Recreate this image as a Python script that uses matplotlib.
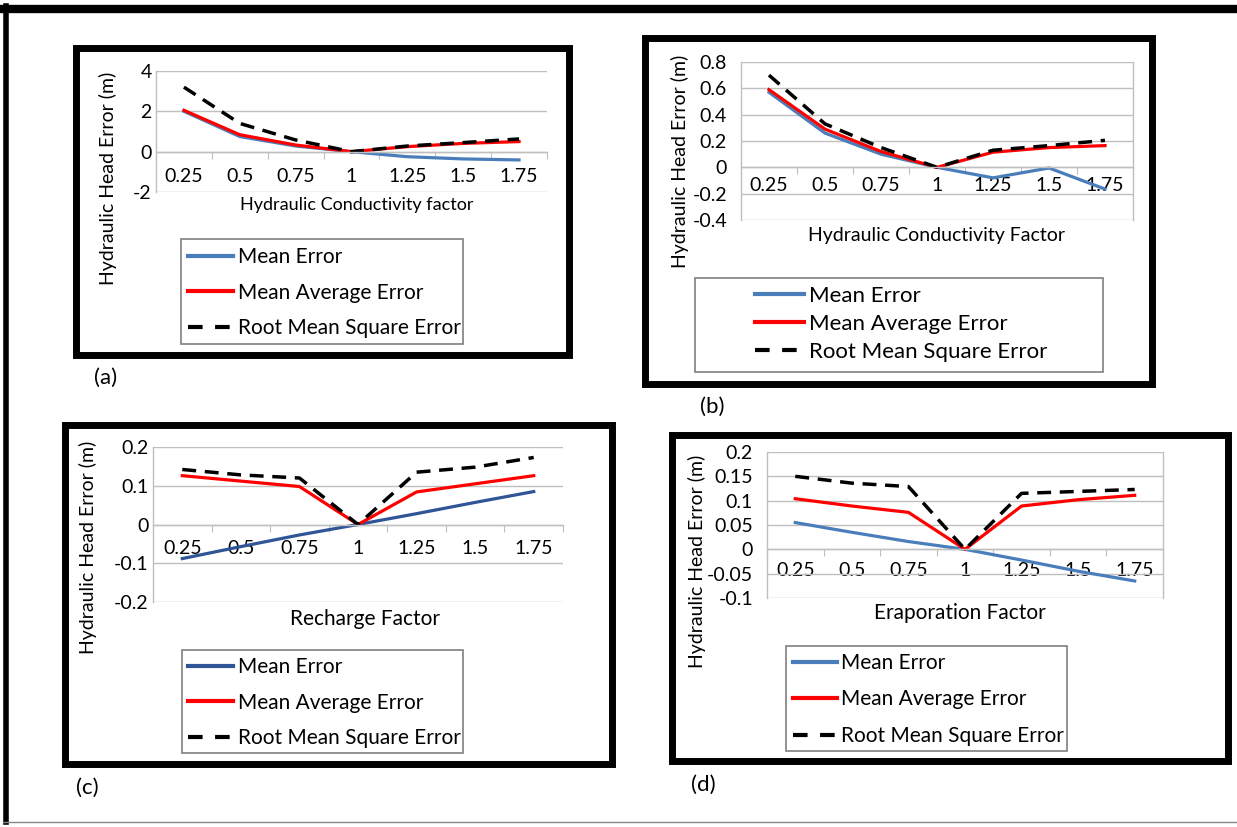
import matplotlib
matplotlib.use('Agg')
import matplotlib.pyplot as plt
from matplotlib.patches import Rectangle
from matplotlib.lines import Line2D
import matplotlib.transforms as mtransforms

plt.rcParams['font.family'] = ['Lato', 'DejaVu Sans']

factors = ['0.25', '0.5', '0.75', '1', '1.25', '1.5', '1.75']
series_names = ['Mean Error', 'Mean Average Error', 'Root Mean Square Error']

# (a) hydraulic conductivity factor
a_me = [2.0, 0.75, 0.28, 0.0, -0.25, -0.36, -0.41]
a_mae = [2.05, 0.84, 0.33, 0.0, 0.25, 0.41, 0.50]
a_rmse = [3.2, 1.4, 0.58, 0.0, 0.28, 0.45, 0.63]
a_yticks = [-2, 0, 2, 4]

# (b) hydraulic conductivity factor
b_me = [0.57, 0.26, 0.10, 0.0, -0.08, -0.005, -0.165]
b_mae = [0.59, 0.29, 0.12, 0.0, 0.115, 0.15, 0.165]
b_rmse = [0.70, 0.33, 0.15, 0.0, 0.13, 0.165, 0.205]
b_yticks = [-0.4, -0.2, 0, 0.2, 0.4, 0.6, 0.8]

# (c) recharge factor
c_me = [-0.088, -0.057, -0.027, 0.0, 0.028, 0.057, 0.085]
c_mae = [0.126, 0.112, 0.098, 0.0, 0.084, 0.105, 0.126]
c_rmse = [0.142, 0.128, 0.12, 0.0, 0.135, 0.148, 0.173]
c_yticks = [-0.2, -0.1, 0, 0.1, 0.2]

# (d) evaporation factor
d_me = [0.055, 0.035, 0.016, 0.0, -0.022, -0.045, -0.065]
d_mae = [0.104, 0.089, 0.076, 0.0, 0.089, 0.102, 0.111]
d_rmse = [0.150, 0.136, 0.129, 0.0, 0.115, 0.119, 0.123]
d_yticks = [-0.1, -0.05, 0, 0.05, 0.1, 0.15, 0.2]

W, H = 1237, 827
fig = plt.figure(figsize=(W / 100, H / 100), dpi=100)

# pixel (from top-left) -> figure fraction
def fx(x):
    return x / W

def fy(y):
    return 1 - y / H

pix = mtransforms.Affine2D().scale(1 / W, -1 / H).translate(0, 1) + fig.transFigure

# outer frame
fig.add_artist(Line2D([fx(3), fx(1237)], [fy(9), fy(9)], color='black', lw=6))
fig.add_artist(Line2D([fx(5.5), fx(5.5)], [fy(6), fy(822)], color='black', lw=4))
fig.add_artist(Line2D([fx(3), fx(1237)], [fy(822), fy(822)], color='#888888', lw=1))

panels = [
    dict(me=a_me, mae=a_mae, rmse=a_rmse, yticks=a_yticks, ylim=(-2, 4),
         box=(75.5, 47.5, 568.5, 354.5), plot=(156, 71, 547, 192),
         ylabel_xy=(108, 178), xlabel='Hydraulic Conductivity factor', xlabel_xy=(357, 205),
         xlabel_size=13, leg_box=(181, 239, 463, 344), leg_xy=(188, 247), leg_size=15,
         leg_space=0.745, handle_len=2.16, tick_off=25, ypad=3, right=False,
         me_color='#4a7ebb', tag='(a)', tag_xy=(106, 378)),
    dict(me=b_me, mae=b_mae, rmse=b_rmse, yticks=b_yticks, ylim=(-0.4, 0.8),
         box=(645, 38.5, 1151.5, 384), plot=(741, 62, 1133, 220),
         ylabel_xy=(680, 161), xlabel='Hydraulic Conductivity Factor', xlabel_xy=(937, 235),
         xlabel_size=14, leg_box=(695, 278, 1103, 372), leg_xy=(755, 286), leg_size=16,
         leg_space=0.36, handle_len=2.2, tick_off=18, ypad=10, right=True,
         me_color='#4a7ebb', tag='(b)', tag_xy=(712, 407)),
    dict(me=c_me, mae=c_mae, rmse=c_rmse, yticks=c_yticks, ylim=(-0.2, 0.2),
         box=(65, 425, 612, 764), plot=(153, 447, 563, 602),
         ylabel_xy=(88, 547), xlabel='Recharge Factor', xlabel_xy=(365, 619),
         xlabel_size=15, leg_box=(182, 650, 463, 753), leg_xy=(188, 657), leg_size=15,
         leg_space=0.745, handle_len=2.16, tick_off=24, ypad=3, right=False,
         me_color='#2f5597', tag='(c)', tag_xy=(87, 788)),
    dict(me=d_me, mae=d_mae, rmse=d_rmse, yticks=d_yticks, ylim=(-0.1, 0.2),
         box=(671.5, 435, 1228, 761), plot=(767, 452, 1163, 598),
         ylabel_xy=(697, 561), xlabel='Eraporation Factor', xlabel_xy=(960, 613),
         xlabel_size=15, leg_box=(786, 646, 1067, 751), leg_xy=(793, 653), leg_size=15,
         leg_space=0.79, handle_len=2.1, tick_off=21, ypad=10, right=True,
         me_color='#4a7ebb', tag='(d)', tag_xy=(703, 785)),
]

grid_color = '#bfbfbf'
x = list(range(len(factors)))

for p in panels:
    x0, y0, x1, y1 = p['box']
    fig.add_artist(Rectangle((fx(x0), fy(y1)), fx(x1 - x0), (y1 - y0) / H,
                             transform=fig.transFigure, fill=False, lw=5, ec='black'))

    l, t, r, b = p['plot']
    ax = fig.add_axes([fx(l), fy(b), fx(r - l), (b - t) / H])
    ax.plot(x, p['me'], color=p['me_color'], lw=2.3, label=series_names[0])
    ax.plot(x, p['mae'], color='#ff0000', lw=2.3, label=series_names[1])
    ax.plot(x, p['rmse'], color='black', lw=2.5, dashes=(4, 2.5), label=series_names[2])

    ax.set_xlim(-0.5, len(factors) - 0.5)
    ax.set_ylim(*p['ylim'])
    ax.set_yticks(p['yticks'])
    ax.set_yticklabels([f'{v:g}' for v in p['yticks']])
    ax.tick_params(axis='y', length=0, pad=p['ypad'], labelsize=14)
    ax.grid(axis='y', color=grid_color, lw=1)
    ax.set_axisbelow(True)

    # category axis crosses at zero, boundary ticks pointing down
    ax.spines['bottom'].set_position(('data', 0))
    ax.set_xticks([i - 0.5 for i in range(len(factors) + 1)])
    ax.set_xticklabels([])
    ax.tick_params(axis='x', which='major', length=5, color=grid_color, direction='out')
    ax.set_xticks(x, minor=True)
    ax.set_xticklabels(factors, minor=True)
    ax.tick_params(axis='x', which='minor', length=0, labelsize=14,
                   pad=p['tick_off'] * 0.72)
    for lab in ax.get_xticklabels(minor=True):
        lab.set_va('center')

    for side in ['bottom', 'left', 'right', 'top']:
        ax.spines[side].set_color(grid_color)
        ax.spines[side].set_linewidth(1)
    ax.spines['top'].set_visible(False)
    ax.spines['right'].set_visible(p['right'])

    ax.set_ylabel('Hydraulic Head Error (m)', fontsize=14, va='center')
    ax.yaxis.set_label_coords(*p['ylabel_xy'], transform=pix)
    ax.set_xlabel(p['xlabel'], fontsize=p['xlabel_size'], va='center')
    ax.xaxis.set_label_coords(*p['xlabel_xy'], transform=pix)

    # legend frame, then entries without their own frame
    lx0, ly0, lx1, ly1 = p['leg_box']
    fig.add_artist(Rectangle((fx(lx0), fy(ly1)), fx(lx1 - lx0), (ly1 - ly0) / H,
                             transform=fig.transFigure, fill=False, lw=1.2, ec='#7f7f7f'))
    handles = [Line2D([], [], color=p['me_color'], lw=3),
               Line2D([], [], color='#ff0000', lw=3),
               Line2D([], [], color='black', lw=3, dashes=(3.5, 3))]
    fig.legend(handles, series_names, loc='upper left',
               bbox_to_anchor=(fx(p['leg_xy'][0]), fy(p['leg_xy'][1])),
               fontsize=p['leg_size'], frameon=False, borderaxespad=0, borderpad=0,
               handlelength=p['handle_len'], handletextpad=0.22,
               labelspacing=p['leg_space'])

    fig.text(fx(p['tag_xy'][0]), fy(p['tag_xy'][1]), p['tag'], fontsize=16,
             ha='center', va='center')

fig.savefig('out.png', dpi=100)
